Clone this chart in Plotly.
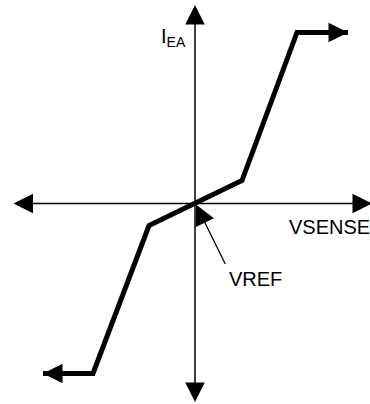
import plotly.graph_objects as go

# ---- data (pixel-like units, origin at VREF) ----
vsense = [-152, -102, -46, 0, 47, 102, 153]
iea = [-170, -170, -22, 0, 23, 171, 171]

x_axis_ends = [-183, 177]
y_axis_ends = [-200, 198.5]
vref_tail = (31, -62)

FONT = "Liberation Sans, Arial, sans-serif"
W, H = 370, 404
ORIGIN_PX = (195, 203.5)

fig = go.Figure()

# transfer curve
fig.add_trace(go.Scatter(
    x=vsense, y=iea, mode="lines",
    line=dict(color="black", width=5),
    hoverinfo="skip", showlegend=False,
))

annotations = []

# axes with double arrows
annotations.append(dict(
    x=x_axis_ends[1], y=0, ax=x_axis_ends[0], ay=0,
    xref="x", yref="y", axref="x", ayref="y", text="",
    showarrow=True, arrowside="end+start", arrowhead=2, startarrowhead=2,
    arrowwidth=1.5, arrowsize=2.6, startarrowsize=2.6, arrowcolor="black",
))
annotations.append(dict(
    x=0, y=y_axis_ends[1], ax=0, ay=y_axis_ends[0],
    xref="x", yref="y", axref="x", ayref="y", text="",
    showarrow=True, arrowside="end+start", arrowhead=2, startarrowhead=2,
    arrowwidth=1.5, arrowsize=2.6, startarrowsize=2.6, arrowcolor="black",
))

# arrow ends of the curve
annotations.append(dict(
    x=vsense[-1], y=iea[-1], ax=vsense[-2], ay=iea[-2],
    xref="x", yref="y", axref="x", ayref="y", text="",
    showarrow=True, arrowhead=2, arrowwidth=5, arrowsize=0.78,
    arrowcolor="black",
))
annotations.append(dict(
    x=vsense[0], y=iea[0], ax=vsense[1], ay=iea[1],
    xref="x", yref="y", axref="x", ayref="y", text="",
    showarrow=True, arrowhead=2, arrowwidth=5, arrowsize=0.78,
    arrowcolor="black",
))

# VREF pointer
annotations.append(dict(
    x=1, y=-1, ax=vref_tail[0], ay=vref_tail[1],
    xref="x", yref="y", axref="x", ayref="y", text="",
    showarrow=True, arrowhead=2, arrowwidth=1.3, arrowsize=3.1,
    arrowcolor="black",
))

# labels
annotations += [
    dict(x=-36, y=166, text="I<sub>EA</sub>", showarrow=False,
         xanchor="left", yanchor="middle", font=dict(size=20)),
    dict(x=92, y=-23, text="VSENSE", showarrow=False,
         xanchor="left", yanchor="middle", font=dict(size=20)),
    dict(x=32, y=-75, text="VREF", showarrow=False,
         xanchor="left", yanchor="middle", font=dict(size=20)),
]

fig.update_layout(
    width=W, height=H,
    margin=dict(l=0, r=0, t=0, b=0),
    paper_bgcolor="white", plot_bgcolor="white",
    font=dict(family=FONT, color="black", size=20),
    annotations=annotations,
    showlegend=False,
    xaxis=dict(range=[-ORIGIN_PX[0], W - ORIGIN_PX[0]], visible=False, fixedrange=True),
    yaxis=dict(range=[ORIGIN_PX[1] - H, ORIGIN_PX[1]], visible=False, fixedrange=True),
)

fig.write_html("out.html", config={"displayModeBar": False},
               post_script="document.body.style.margin='0';")
